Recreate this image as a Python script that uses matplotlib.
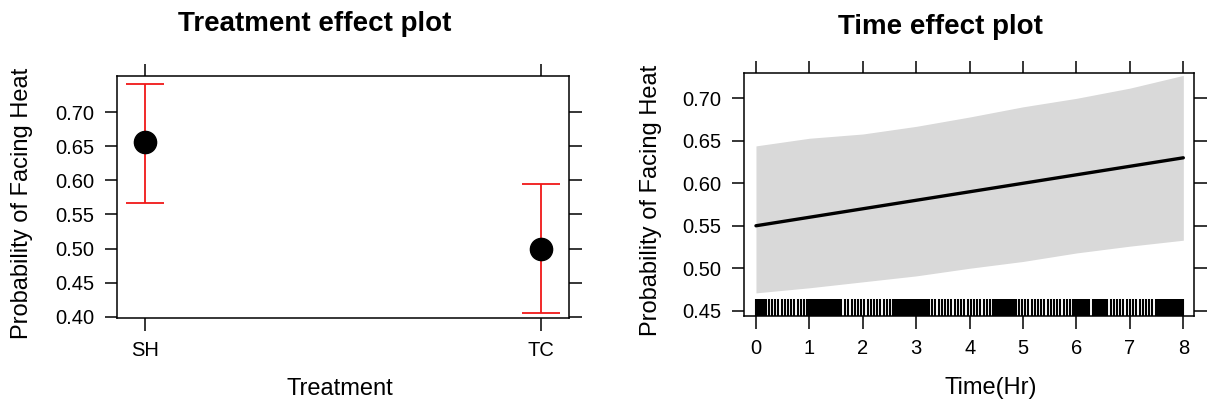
import numpy as np
import matplotlib
matplotlib.use("Agg")
import matplotlib.pyplot as plt
import matplotlib.transforms as mtransforms

plt.rcParams["font.family"] = ["Liberation Sans", "DejaVu Sans"]

# ---------------------------------------------------------------------
# Data
# ---------------------------------------------------------------------
treatments = ["SH", "TC"]
treat_fit = [0.656, 0.500]
treat_lower = [0.567, 0.406]
treat_upper = [0.741, 0.594]

hours = [0, 1, 2, 3, 4, 5, 6, 7, 8]
time_fit = [0.550, 0.560, 0.570, 0.580, 0.590, 0.600, 0.610, 0.620, 0.630]
time_lower = [0.471, 0.477, 0.484, 0.491, 0.500, 0.508, 0.518, 0.526, 0.533]
time_upper = [0.644, 0.653, 0.658, 0.667, 0.678, 0.690, 0.700, 0.712, 0.727]

# observed times shown as a rug along the bottom of the time panel
rug_times = [
    0.00, 0.03, 0.06, 0.09, 0.12, 0.15,
    0.18, 0.24, 0.30, 0.36, 0.42, 0.48, 0.54, 0.60, 0.66, 0.72, 0.78, 0.84, 0.90, 0.96,
    1.00, 1.03, 1.06, 1.09, 1.12, 1.15, 1.18, 1.21, 1.24, 1.27, 1.30, 1.33, 1.36, 1.39,
    1.42, 1.45, 1.48, 1.51, 1.54, 1.57, 1.60,
    1.67, 1.73, 1.79, 1.85, 1.91, 1.97, 2.03, 2.09, 2.15, 2.21, 2.27, 2.33, 2.39, 2.45,
    2.51, 2.57,
    2.60, 2.63, 2.66, 2.69, 2.72, 2.75, 2.78, 2.81, 2.84, 2.87, 2.90, 2.93, 2.96, 2.99,
    3.02, 3.05, 3.08, 3.11, 3.14, 3.17, 3.20, 3.23,
    3.30, 3.36, 3.42, 3.48, 3.54, 3.60, 3.66, 3.72, 3.78, 3.84, 3.90, 3.96, 4.02, 4.08,
    4.14, 4.20, 4.26, 4.32, 4.38, 4.44,
    4.47, 4.50, 4.53, 4.56, 4.59, 4.62, 4.65, 4.68, 4.71, 4.74, 4.77, 4.80, 4.83, 4.86,
    4.92, 4.98, 5.04, 5.10, 5.16, 5.22, 5.28, 5.34, 5.40, 5.46, 5.52, 5.58, 5.64, 5.70,
    5.76, 5.82, 5.88, 5.94,
    5.97, 6.00, 6.03, 6.06, 6.09, 6.12, 6.15, 6.18, 6.21, 6.24,
    6.30, 6.33, 6.36, 6.39, 6.42, 6.45, 6.48, 6.51, 6.54,
    6.58, 6.64, 6.70, 6.76, 6.82, 6.88, 6.94, 7.00, 7.06, 7.12, 7.18, 7.24, 7.30, 7.36,
    7.42, 7.48,
    7.50, 7.53, 7.56, 7.59, 7.62, 7.65, 7.68, 7.71, 7.74, 7.77, 7.80, 7.83, 7.86, 7.89,
    7.92, 7.95, 8.00,
]

W, H = 1207, 404
fig = plt.figure(figsize=(W / 100, H / 100), dpi=100)


def style_axes(ax):
    for s in ax.spines.values():
        s.set_linewidth(1.1)
        s.set_color("black")
    ax.tick_params(direction="out", length=9, width=1.1, labelsize=14.5,
                   pad=7.5, colors="black", top=True, right=True,
                   labeltop=False, labelright=False)


# ---------------------------------------------------------------------
# Left panel: treatment effect
# ---------------------------------------------------------------------
ax1 = fig.add_axes([117 / W, 1 - 318 / H, (569 - 117) / W, (318 - 76) / H])
xpos = np.arange(1, len(treatments) + 1)
fit = np.array(treat_fit)
yerr = [fit - np.array(treat_lower), np.array(treat_upper) - fit]
ax1.errorbar(xpos, fit, yerr=yerr, fmt="none", ecolor="#f01818",
             elinewidth=1.3, capsize=13.5, capthick=1.3, zorder=2)
ax1.plot(xpos, fit, "o", color="black", markersize=16, zorder=3)
ax1.set_xlim(0.93, 2.07)
ax1.set_ylim(0.3985, 0.7527)
ax1.set_xticks(xpos)
ax1.set_xticklabels(treatments)
ax1.set_yticks([0.40, 0.45, 0.50, 0.55, 0.60, 0.65, 0.70])
ax1.set_yticklabels([f"{v:.2f}" for v in ax1.get_yticks()])
style_axes(ax1)

fig.text(315 / W, 1 - 24 / H, "Treatment effect plot", ha="center",
         va="center", fontsize=20, fontweight="bold")
fig.text(22 / W, 1 - 203 / H, "Probability of Facing Heat", rotation=90,
         ha="center", va="center", fontsize=17)
fig.text(340 / W, 1 - 389 / H, "Treatment", ha="center", va="center",
         fontsize=17)

# ---------------------------------------------------------------------
# Right panel: time effect
# ---------------------------------------------------------------------
ax2 = fig.add_axes([744 / W, 1 - 316 / H, (1194 - 744) / W, (316 - 73) / H])
ax2.fill_between(hours, time_lower, time_upper, color="#d9d9d9", lw=0,
                 zorder=1)
ax2.plot(hours, time_fit, color="black", lw=2.4, zorder=2,
         solid_capstyle="round")
trans = mtransforms.blended_transform_factory(ax2.transData, ax2.transAxes)
ax2.vlines(rug_times, 0, 0.07, transform=trans, color="black", lw=1.5,
           zorder=3)
ax2.set_xlim(-0.224, 8.2)
ax2.set_ylim(0.4438, 0.7298)
ax2.set_xticks(range(0, 9))
ax2.set_yticks([0.45, 0.50, 0.55, 0.60, 0.65, 0.70])
ax2.set_yticklabels([f"{v:.2f}" for v in ax2.get_yticks()])
style_axes(ax2)

fig.text(940 / W, 1 - 27 / H, "Time effect plot", ha="center",
         va="center", fontsize=20, fontweight="bold")
fig.text(651 / W, 1 - 200 / H, "Probability of Facing Heat", rotation=90,
         ha="center", va="center", fontsize=17)
fig.text(991 / W, 1 - 388 / H, "Time(Hr)", ha="center", va="center",
         fontsize=17)

fig.savefig("out.png", dpi=100)
